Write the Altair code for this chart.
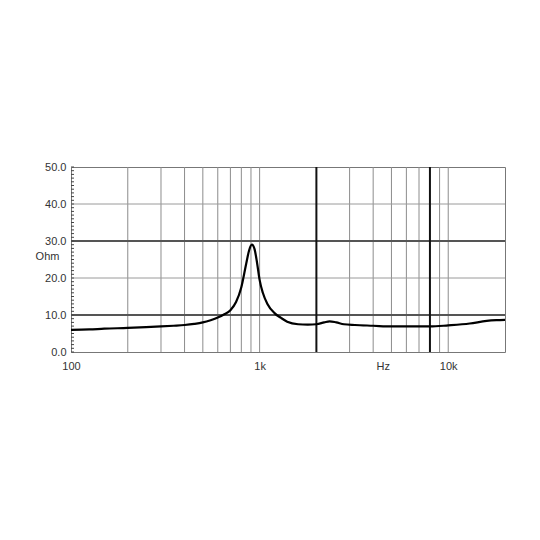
import altair as alt
import pandas as pd

# Impedance curve (Hz, Ohm)
freq = [100, 125, 150, 200, 250, 300, 350, 400, 450, 500, 550, 600, 650, 700,
        750, 800, 850, 880, 910, 940, 970, 1000, 1040, 1100, 1200, 1300, 1400,
        1600, 1800, 2000, 2200, 2350, 2550, 2800, 3200, 4000, 5000, 6000, 8000,
        10000, 13000, 16000, 18000, 20000]
ohm = [6.0, 6.1, 6.3, 6.5, 6.7, 6.9, 7.1, 7.3, 7.6, 8.0, 8.6, 9.3, 10.2, 11.3,
       13.5, 17.5, 24.0, 27.5, 29.0, 27.8, 24.0, 19.5, 16.0, 13.0, 10.5, 9.2, 8.2,
       7.5, 7.4, 7.5, 8.0, 8.3, 8.0, 7.5, 7.3, 7.1, 6.9, 6.9, 6.9,
       7.2, 7.7, 8.4, 8.6, 8.7]

grid_freqs = [200, 300, 400, 500, 600, 700, 800, 900, 1000,
              3000, 4000, 5000, 6000, 7000, 9000, 10000]
marker_freqs = [2000, 8000]
grid_ohms = [20, 40]
thick_ohms = [10, 30]
minor_ohms = list(range(0, 51))
x_label_values = [100, 1000, 4500, 10000]
y_label_values = [0, 10, 20, 30, 40, 50]

curve = pd.DataFrame({"f": freq, "z": ohm})
vgrid = pd.DataFrame({"f": grid_freqs})
vmark = pd.DataFrame({"f": marker_freqs})
hgrid = pd.DataFrame({"z": grid_ohms})
hthick = pd.DataFrame({"z": thick_ohms})
minor = pd.DataFrame({"z": minor_ohms})

xscale = alt.Scale(type="log", domain=[100, 20000], nice=False)
yscale = alt.Scale(domain=[0, 50], nice=False)

FONT = "Liberation Sans"

xaxis = alt.Axis(values=x_label_values, title=None, ticks=False,
                 domain=False, grid=False, labelPadding=8, labelFlush=False,
                 labelFont=FONT, labelFontSize=11, labelColor="#333333",
                 labelExpr="datum.value == 100 ? '100' : datum.value == 1000 ? '1k' : datum.value == 10000 ? '10k' : 'Hz'")
yaxis = alt.Axis(values=y_label_values, format=".1f", ticks=False,
                 domain=False, grid=False, labelPadding=5, labelFlush=False,
                 labelFont=FONT, labelFontSize=11, labelColor="#333333",
                 title="Ohm", titleAngle=0, titleX=-24, titleY=89,
                 titleAlign="center", titleBaseline="middle",
                 titleFont=FONT, titleFontSize=11,
                 titleFontWeight="normal", titleColor="#333333")

X = lambda: alt.X("f:Q", scale=xscale, axis=xaxis)
Y = lambda: alt.Y("z:Q", scale=yscale, axis=yaxis)

l_curve = alt.Chart(curve).mark_line(
    color="#000000", strokeWidth=2.2, interpolate="monotone").encode(x=X(), y=Y())
l_vgrid = alt.Chart(vgrid).mark_rule(color="#8c8c8c", strokeWidth=1).encode(x=X())
l_hgrid = alt.Chart(hgrid).mark_rule(color="#9a9a9a", strokeWidth=1).encode(y=Y())
l_hthick = alt.Chart(hthick).mark_rule(color="#555555", strokeWidth=2).encode(y=Y())
l_vmark = alt.Chart(vmark).mark_rule(color="#111111", strokeWidth=2).encode(x=X())
l_minor = alt.Chart(minor).mark_rule(color="#444444", strokeWidth=1).encode(
    y=Y(), x=alt.value(0), x2=alt.value(3))

chart = alt.layer(l_vgrid, l_hgrid, l_hthick, l_vmark, l_minor, l_curve).properties(
    width=434, height=185,
    padding={"left": 63, "top": 159, "right": 20, "bottom": 170},
    autosize=alt.AutoSizeParams(type="none"),
    background="white",
).configure_view(stroke="#777777", strokeWidth=1)

chart.save("out.html", embed_options={"renderer": "svg", "actions": False})
